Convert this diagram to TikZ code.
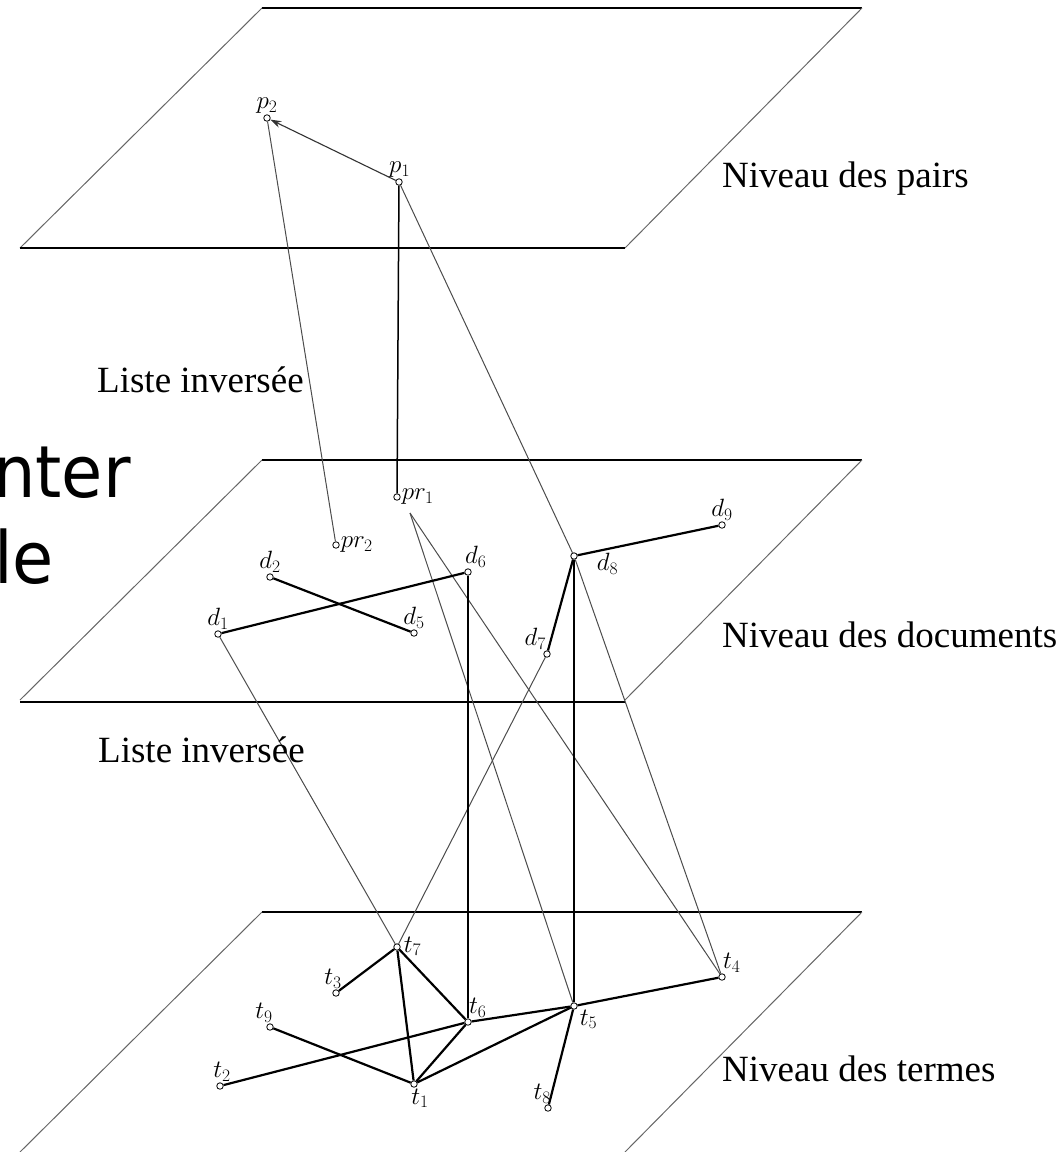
\RequirePackage{fix-cm}
\documentclass[tikz,border=0pt]{standalone}
\usepackage{fontspec}
\setmainfont{Liberation Serif}
\newfontfamily\bigsans{DejaVu Sans}
\usetikzlibrary{arrows.meta}
\begin{document}
\begin{tikzpicture}[x=1pt,y=-1pt,
  v/.style={circle,draw=black,fill=white,inner sep=0pt,minimum size=6.5pt,line width=0.8pt},
  every label/.style={font=\fontsize{25}{25}\selectfont,inner sep=1pt,label distance=0pt},
  thinln/.style={draw=black!70,line width=1pt},
  thickln/.style={draw=black,line width=2.2pt},
  vertln/.style={draw=black,line width=1.5pt},
  hedge/.style={draw=black,line width=1.6pt},
  sedge/.style={draw=black!60,line width=1pt},
  caption/.style={font=\fontsize{37}{37}\selectfont,inner sep=0pt,anchor=base west},
  big/.style={font=\bigsans\fontsize{72}{86}\selectfont,inner sep=0pt,anchor=base west}
]
\useasboundingbox (0,0) rectangle (1063,1152);

% planes
\foreach \y in {8,460,912}{
  \coordinate (A) at (262,\y);
  \coordinate (B) at (862,\y);
  \draw[hedge] (A) -- (B);
  \draw[sedge] (A) -- ++(-242,240);
  \draw[sedge] (B) -- ++(-237,240);
}
\draw[hedge] (20,248) -- (625,248);
\draw[hedge] (20,702) -- (625,702);

% nodes: pairs
\node[v,label={[anchor=south]90:$p_2$}] (p2) at (267,118) {};
\node[v,label={[anchor=south]80:$p_1$}] (p1) at (399,182) {};
% documents level
\node[v,label={[anchor=west]0:$pr_1$}] (pr1) at (397,497) {};
\node[v,label={[anchor=west]0:$pr_2$}] (pr2) at (336,545) {};
\coordinate (pr1s) at (410,513);
\node[v,label={[anchor=south]90:$d_1$}] (d1) at (218,634) {};
\node[v,label={[anchor=south]90:$d_2$}] (d2) at (270,577) {};
\node[v,label={[anchor=south]90:$d_5$}] (d5) at (414,633) {};
\node[v,label={[anchor=south west,xshift=-4pt]90:$d_6$}] (d6) at (468,572) {};
\node[v,label={[anchor=south east,xshift=2pt]120:$d_7$}] (d7) at (547,654) {};
\node[v,label={[anchor=north west,yshift=4pt,xshift=18pt]0:$d_8$}] (d8) at (574,556) {};
\node[v,label={[anchor=south]90:$d_9$}] (d9) at (722,525) {};
% terms level
\node[v,label={[anchor=west,xshift=2pt]10:$t_7$}] (t7) at (397,947) {};
\node[v,label={[anchor=south,xshift=-3pt]90:$t_3$}] (t3) at (336,993) {};
\node[v,label={[anchor=south,xshift=-6pt]90:$t_9$}] (t9) at (270,1027) {};
\node[v,label={[anchor=south west,xshift=-2pt]60:$t_6$}] (t6) at (468,1022) {};
\node[v,label={[anchor=south,xshift=2pt]90:$t_2$}] (t2) at (220,1086) {};
\node[v,label={[anchor=north,xshift=6pt]270:$t_1$}] (t1) at (414,1084) {};
\node[v,label={[anchor=south west,xshift=-2pt]60:$t_4$}] (t4) at (722,977) {};
\node[v,label={[anchor=north west,xshift=2pt]-45:$t_5$}] (t5) at (574,1006) {};
\node[v,label={[anchor=south east,xshift=6pt]120:$t_8$}] (t8) at (548,1108) {};

% connectors
\draw[draw=black!80,line width=1.1pt,-{Stealth[length=11pt,width=7pt]}] (p1) -- (p2);
\draw[vertln] (p1) -- (pr1);
\draw[thinln] (p2) -- (pr2);
\draw[thinln] (p1) -- (d8);
\draw[thinln] (d8) -- (t4);
\draw[thinln] (pr1s) -- (t5);
\draw[thinln] (pr1s) -- (t4);
\draw[thinln] (d1) -- (t7);
\draw[thinln] (d7) -- (t7);
\draw[vertln] (d6) -- (t6);
\draw[vertln] (d8) -- (t5);
\draw[thickln] (d1) -- (d6);
\draw[thickln] (d2) -- (d5);
\draw[thickln] (d8) -- (d9);
\draw[thickln] (d8) -- (d7);
\draw[thickln] (t7) -- (t3);
\draw[thickln] (t7) -- (t1);
\draw[thickln] (t7) -- (t6);
\draw[thickln] (t9) -- (t1);
\draw[thickln] (t2) -- (t6);
\draw[thickln] (t6) -- (t5);
\draw[thickln] (t5) -- (t4);
\draw[thickln] (t1) -- (t6);
\draw[thickln] (t1) -- (t5);
\draw[thickln] (t5) -- (t8);

% captions
\node[caption] (lp) at (722,187) {Niveau des pairs};
\node[caption] (ld) at (722,647) {Niveau des documents};
\node[caption] (lt) at (722,1081) {Niveau des termes};
\node[caption] (li1) at (97,392) {Liste inversée};
\node[caption] (li2) at (98,762) {Liste inversée};

% clipped large text
\node[big] (bg1) at (-7,497) {\scalebox{0.93}[1]{nter}};
\node[big] (bg2) at (-6,583) {\scalebox{0.93}[1]{le}};
\end{tikzpicture}
\end{document}
